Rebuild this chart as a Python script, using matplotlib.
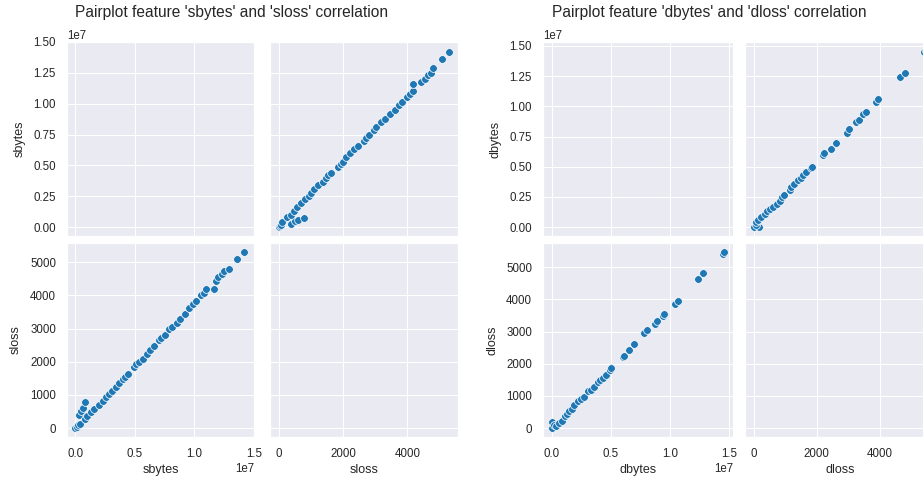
import matplotlib.pyplot as plt
import seaborn as sns

# source traffic: bytes (x1e7) and lost packets
sbytes = [0.0, 0.01, 0.02, 0.03, 0.04, 0.05, 0.06, 0.077, 0.083, 0.10, 0.13, 0.16,
          0.20, 0.23, 0.256, 0.28, 0.31, 0.34, 0.366, 0.40, 0.42, 0.44, 0.49, 0.51,
          0.53, 0.57, 0.60, 0.63, 0.66, 0.70, 0.72, 0.75, 0.79, 0.81, 0.85, 0.88,
          0.92, 0.95, 0.99, 1.014, 1.055, 1.08, 1.10, 1.16, 1.18, 1.20, 1.23, 1.25,
          1.29, 1.36, 1.42]
sloss = [0, 40, 90, 385, 120, 520, 600, 790, 275, 380, 475, 580,
         710, 820, 943, 1020, 1115, 1230, 1370, 1480, 1550, 1620, 1840, 1925,
         1990, 2090, 2230, 2350, 2460, 2640, 2720, 2820, 2980, 3040, 3175, 3300,
         3450, 3620, 3750, 3830, 4000, 4080, 4180, 4190, 4430, 4550, 4640, 4730,
         4790, 5080, 5310]

# destination traffic
dbytes = [0.0, 0.0, 0.02, 0.04, 0.06, 0.084, 0.11, 0.13, 0.15, 0.17, 0.19, 0.22,
          0.25, 0.27, 0.31, 0.33, 0.36, 0.39, 0.41, 0.43, 0.46, 0.49, 0.50, 0.60,
          0.61, 0.65, 0.70, 0.78, 0.81, 0.87, 0.89, 0.94, 0.95, 1.04, 1.065, 1.24,
          1.28, 1.45, 1.46]
dloss = [0, 180, 90, 60, 150, 230, 365, 430, 520, 600, 730, 830,
         900, 970, 1150, 1200, 1290, 1420, 1500, 1560, 1650, 1810, 1860, 2200,
         2240, 2440, 2620, 2950, 3040, 3250, 3330, 3480, 3550, 3870, 3950, 4650,
         4810, 5420, 5480]

sns.set_theme(style="darkgrid")
plt.rcParams['font.family'] = ['Liberation Sans']
plt.rcParams['text.color'] = '#262626'

W, H = 923, 479
fig = plt.figure(figsize=(W / 72, H / 72), dpi=72)


def box(left, top, width, height):
    return [left / W, 1 - (top + height) / H, width / W, height / H]


def pair_grid(x_lefts, widths, names, values, title, title_x):
    bytes_v = [v * 1e7 for v in values[0]]
    cols = [bytes_v, values[1]]
    tops = [42, 243]
    heights = [194, 194]
    axes = [[None, None], [None, None]]
    for r in range(2):
        for c in range(2):
            sx = axes[0][c] if r > 0 else None
            sy = axes[r][0] if c > 0 else None
            ax = fig.add_axes(box(x_lefts[c], tops[r], widths[c], heights[r]),
                              sharex=sx, sharey=sy)
            axes[r][c] = ax
            if r != c:
                ax.scatter(cols[c], cols[r], s=60, color='#1f77b4',
                           edgecolor='white', linewidth=0.75)
            ax.tick_params(labelsize=11.5, pad=5, colors='#262626')
    # empty diagonal panels still span the data range
    for i in range(2):
        lo, hi = min(cols[i]), max(cols[i])
        m = (hi - lo) * 0.05
        axes[1][i].set_xlim(lo - m, hi + m)
        axes[i][0].set_ylim(lo - m, hi + m)

    axes[0][0].set_yticks([0, 0.25e7, 0.5e7, 0.75e7, 1.0e7, 1.25e7, 1.5e7])
    axes[1][0].set_yticks([0, 1000, 2000, 3000, 4000, 5000])
    axes[1][0].set_xticks([0, 0.5e7, 1.0e7, 1.5e7])
    axes[1][1].set_xticks([0, 2000, 4000])

    for r in range(2):
        for c in range(2):
            ax = axes[r][c]
            if r == 0:
                ax.tick_params(labelbottom=False)
                ax.xaxis.offsetText.set_visible(False)
            if c == 1:
                ax.tick_params(labelleft=False)
                ax.yaxis.offsetText.set_visible(False)
            ax.xaxis.offsetText.set_fontsize(11.5)
            ax.yaxis.offsetText.set_fontsize(11.5)
    axes[0][0].set_ylabel(names[0], fontsize=12.5, labelpad=8)
    axes[1][0].set_ylabel(names[1], fontsize=12.5, labelpad=8)
    axes[1][0].set_xlabel(names[0], fontsize=12.5)
    axes[1][1].set_xlabel(names[1], fontsize=12.5)
    fig.text(title_x / W, 1 - 13 / H, title, ha='center', va='center',
             fontsize=15.5)


pair_grid([67, 270], [187, 188], ['sbytes', 'sloss'], [sbytes, sloss],
          "Pairplot feature 'sbytes' and 'sloss' correlation", 232)
pair_grid([543, 745], [190, 190], ['dbytes', 'dloss'], [dbytes, dloss],
          "Pairplot feature 'dbytes' and 'dloss' correlation", 709)

fig.savefig('out.png', dpi=72)
